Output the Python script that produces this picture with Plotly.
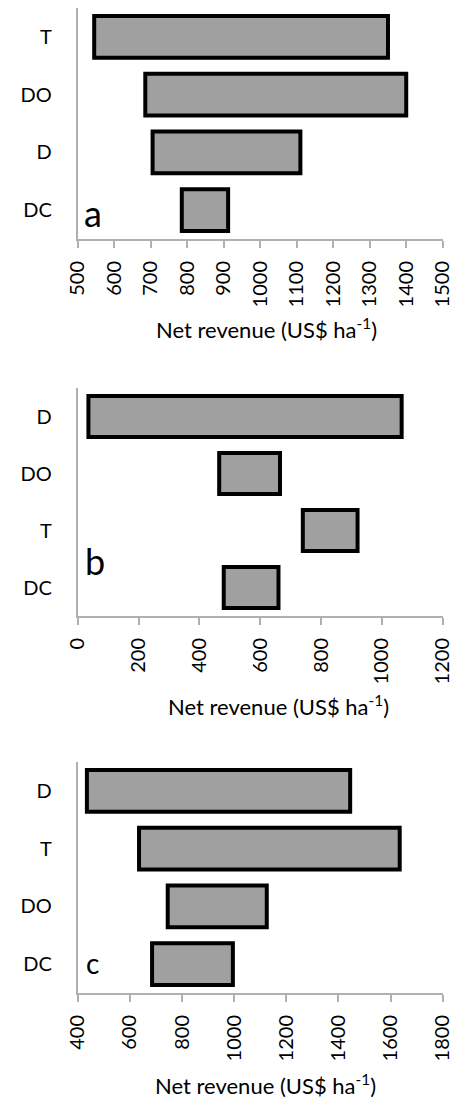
import plotly.graph_objects as go

# Panel a
a_cats = ["T", "DO", "D", "DC"]
a_low = [545, 685, 705, 785]
a_high = [1350, 1400, 1110, 912]
a_ticks = [500, 600, 700, 800, 900, 1000, 1100, 1200, 1300, 1400, 1500]

# Panel b
b_cats = ["D", "DO", "T", "DC"]
b_low = [35, 465, 740, 480]
b_high = [1065, 665, 920, 660]
b_ticks = [0, 200, 400, 600, 800, 1000, 1200]

# Panel c
c_cats = ["D", "T", "DO", "DC"]
c_low = [435, 635, 745, 685]
c_high = [1445, 1635, 1125, 995]
c_ticks = [400, 600, 800, 1000, 1200, 1400, 1600, 1800]

panel_letters = ["a", "b", "c"]
axis_title = "Net revenue (US$ ha<sup>-1</sup>)"

# The page body has an 8px margin, so the figure is drawn 8px smaller and
# every reference pixel position is shifted by that offset.
OFF = 8
W, H = 466 - OFF, 1098 - OFF
FONT = "Lato"
BAR_FILL = "#a0a0a0"
AXIS_COL = "#b0b0b0"

def py(px):
    return 1 - (px - OFF) / H

def pxx(px):
    return (px - OFF) / W

panels = [
    dict(cats=a_cats, low=a_low, high=a_high, ticks=a_ticks, ydom=(8, 239)),
    dict(cats=b_cats, low=b_low, high=b_high, ticks=b_ticks, ydom=(388, 616)),
    dict(cats=c_cats, low=c_low, high=c_high, ticks=c_ticks, ydom=(762, 993)),
]

fig = go.Figure()
layout = dict(
    width=W, height=H,
    margin=dict(l=0, r=0, t=0, b=0),
    paper_bgcolor="white", plot_bgcolor="white",
    showlegend=False,
    font=dict(family=FONT, size=20, color="black"),
)

for i, p in enumerate(panels):
    sfx = "" if i == 0 else str(i + 1)
    fig.add_trace(go.Bar(
        orientation="h",
        y=p["cats"],
        x=[h - l for l, h in zip(p["low"], p["high"])],
        base=p["low"],
        width=0.72,
        marker=dict(color=BAR_FILL, line=dict(color="black", width=4)),
        xaxis="x" + sfx, yaxis="y" + sfx,
        hoverinfo="skip",
    ))
    layout["xaxis" + sfx] = dict(
        domain=[pxx(67), pxx(453)],
        anchor="y" + sfx,
        range=[p["ticks"][0], p["ticks"][-1]],
        tickvals=p["ticks"],
        tickangle=-90,
        ticks="outside", ticklen=7, tickwidth=2, tickcolor=AXIS_COL,
        showline=True, linecolor=AXIS_COL, linewidth=2,
        showgrid=False, zeroline=False,
        tickfont=dict(family=FONT, size=20, color="black"),
        ticklabelstandoff=5,
    )
    layout["yaxis" + sfx] = dict(
        domain=[py(p["ydom"][1]), py(p["ydom"][0])],
        anchor="x" + sfx,
        categoryorder="array",
        categoryarray=list(reversed(p["cats"])),
        range=[-0.5, 3.5],
        showline=True, linecolor=AXIS_COL, linewidth=2,
        ticks="outside", ticklen=20, tickcolor="rgba(0,0,0,0)",
        showgrid=False, zeroline=False,
        tickfont=dict(family=FONT, size=20, color="black"),
    )

annotations = []
title_pos = [(267, 328), (279, 705), (266, 1084)]
for (tx, ty) in title_pos:
    annotations.append(dict(
        text=axis_title, xref="paper", yref="paper",
        x=pxx(tx), y=py(ty), xanchor="center", yanchor="middle",
        showarrow=False, font=dict(family=FONT, size=22, color="black"),
    ))

letter_pos = [(83, 213, 36), (85, 561, 36), (83, 963, 28)]
for letter, (lx, ly, fs) in zip(panel_letters, letter_pos):
    annotations.append(dict(
        text=letter, xref="paper", yref="paper",
        x=pxx(lx), y=py(ly), xanchor="center", yanchor="middle",
        showarrow=False, font=dict(family=FONT, size=fs, color="black"),
    ))

layout["annotations"] = annotations
fig.update_layout(**layout)
fig.write_html("out.html")
